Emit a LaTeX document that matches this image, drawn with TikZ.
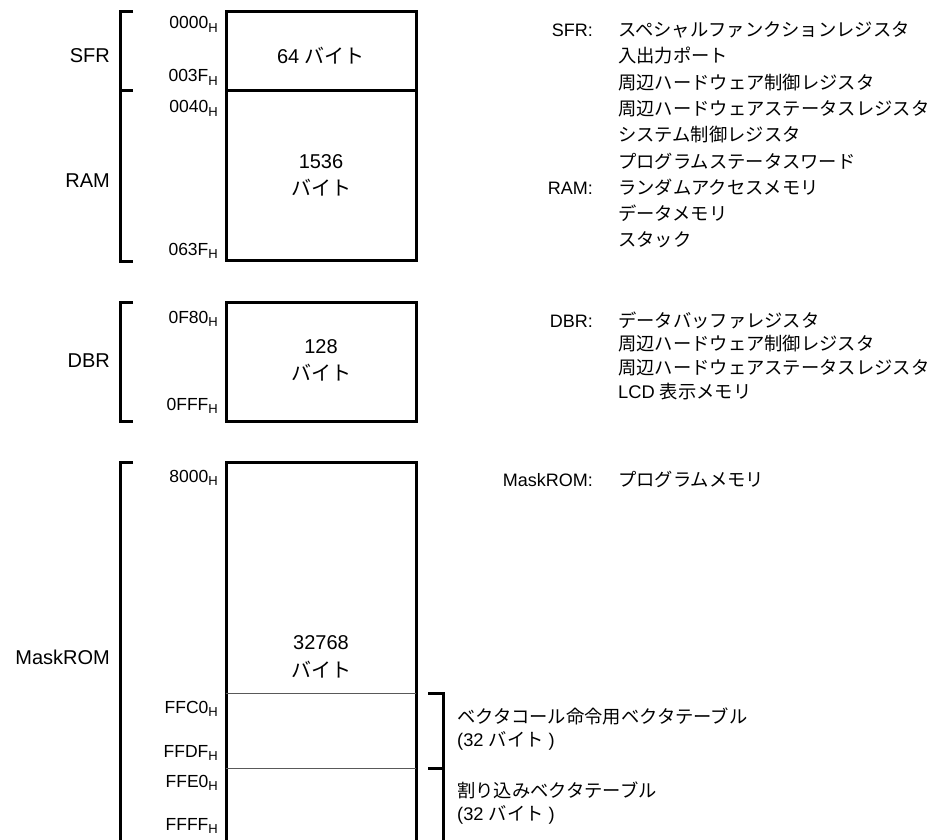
\documentclass[tikz,border=0pt]{standalone}
\usepackage{fontspec}
\setmainfont{Liberation Sans}
\newfontfamily\jp{Noto Sans CJK JP}
\newcommand\hsub{\raisebox{-3.5pt}{\fontsize{13}{13}\selectfont H}}
\begin{document}
\begin{tikzpicture}[x=1pt,y=-1pt,
  thickline/.style={line width=3pt, line join=miter},
  thinline/.style={line width=1pt, black!65},
  blk/.style={anchor=base east, font=\fontsize{20}{24}\selectfont, inner sep=0pt},
  addr/.style={anchor=base east, font=\fontsize{17.5}{20}\selectfont, inner sep=0pt},
  boxtxt/.style={anchor=base, font=\fontsize{20}{24}\selectfont, inner sep=0pt},
  desclbl/.style={anchor=base east, font=\fontsize{18}{22}\selectfont, inner sep=0pt},
  desc/.style={anchor=base west, font=\fontsize{18.3}{22}\selectfont, inner sep=0pt}]
\useasboundingbox (0,0) rectangle (935,840);
\clip (0,0) rectangle (935,840);

% brackets and boxes
\draw[thickline] (133,12) -- (120,12) -- (120,261) -- (133,261);
\draw[thickline] (120,91) -- (133,91);
\draw[thickline] (226,12) rectangle (416,260);
\draw[thickline] (226,91) -- (416,91);

\draw[thickline] (133,302) -- (120,302) -- (120,421) -- (133,421);
\draw[thickline] (226,302) rectangle (416,421);

\draw[thickline] (133,462) -- (120,462) -- (120,860);
\draw[thickline] (226,860) -- (226,462) -- (416,462) -- (416,860);
\draw[thinline] (226,693) -- (416,693);
\draw[thinline] (226,768) -- (416,768);

\draw[thickline] (428,693) -- (443,693) -- (443,860);
\draw[thickline] (428,768) -- (443,768);

% block labels
\node[blk] (lsfr) at (110,63) {SFR};
\node[blk] (lram) at (110,188) {RAM};
\node[blk] (ldbr) at (110,367) {DBR};
\node[blk] (lrom) at (110,664) {MaskROM};

% addresses
\node[addr] (a1) at (218,29) {0000\hsub};
\node[addr] (a2) at (218,82) {003F\hsub};
\node[addr] (a3) at (218,113) {0040\hsub};
\node[addr] (a4) at (218,255) {063F\hsub};
\node[addr] (a5) at (218,323) {0F80\hsub};
\node[addr] (a6) at (218,410) {0FFF\hsub};
\node[addr] (a7) at (218,482) {8000\hsub};
\node[addr] (a8) at (218,713) {FFC0\hsub};
\node[addr] (a9) at (218,757) {FFDF\hsub};
\node[addr] (a10) at (218,787) {FFE0\hsub};
\node[addr] (a11) at (218,830) {FFFF\hsub};

% box texts
\node[boxtxt] (b1) at (321,64) {64 {\jp バイト}};
\node[boxtxt] (b2) at (321,168) {1536};
\node[boxtxt] (b3) at (321,196) {\jp バイト};
\node[boxtxt] (b4) at (321,353) {128};
\node[boxtxt] (b5) at (321,380) {\jp バイト};
\node[boxtxt] (b6) at (321,649) {32768};
\node[boxtxt] (b7) at (321,677) {\jp バイト};

% descriptions
\node[desclbl] (dsfr) at (593,37) {SFR:};
\node[desc] (d1) at (618,37) {\jp スペシャルファンクションレジスタ};
\node[desc] (d2) at (618,63) {\jp 入出力ポート};
\node[desc] (d3) at (618,89.5) {\jp 周辺ハードウェア制御レジスタ};
\node[desc] (d4) at (618,116) {\jp 周辺ハードウェアステータスレジスタ};
\node[desc] (d5) at (618,142) {\jp システム制御レジスタ};
\node[desc] (d6) at (618,168) {\jp プログラムステータスワード};
\node[desclbl] (dram) at (593,194.5) {RAM:};
\node[desc] (d7) at (618,194.5) {\jp ランダムアクセスメモリ};
\node[desc] (d8) at (618,221) {\jp データメモリ};
\node[desc] (d9) at (618,247) {\jp スタック};

\node[desclbl] (ddbr) at (593,327) {DBR:};
\node[desc] (e1) at (618,327) {\jp データバッファレジスタ};
\node[desc] (e2) at (618,350.7) {\jp 周辺ハードウェア制御レジスタ};
\node[desc] (e3) at (618,374.4) {\jp 周辺ハードウェアステータスレジスタ};
\node[desc] (e4) at (618,398) {LCD {\jp 表示メモリ}};

\node[desclbl] (drom) at (593,486) {MaskROM:};
\node[desc] (f1) at (618,486) {\jp プログラムメモリ};

\node[desc] (v1) at (457,723) {\jp ベクタコール命令用ベクタテーブル};
\node[desc] (v2) at (457,746) {(32 {\jp バイト} )};
\node[desc] (v3) at (457,797) {\jp 割り込みベクタテーブル};
\node[desc] (v4) at (457,820) {(32 {\jp バイト} )};
\end{tikzpicture}
\end{document}
